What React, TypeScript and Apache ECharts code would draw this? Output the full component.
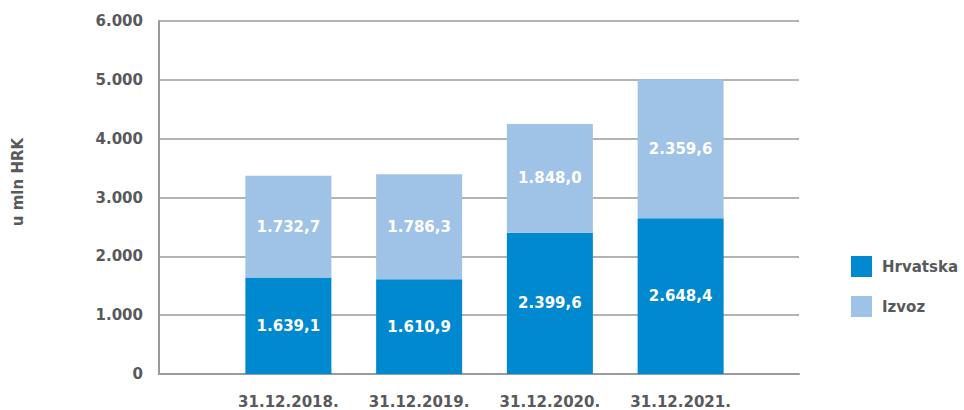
import React, { useEffect, useRef } from "react";
import * as echarts from "echarts";

const categories = ["31.12.2018.", "31.12.2019.", "31.12.2020.", "31.12.2021."];
const hrvatska = [1639.1, 1610.9, 2399.6, 2648.4];
const izvoz = [1732.7, 1786.3, 1848.0, 2359.6];
const seriesNames = ["Hrvatska", "Izvoz"];
const yAxisTitle = "u mln HRK";
const yMin = 0;
const yMax = 6000;
const yInterval = 1000;

const FONT = "DejaVu Sans";
const GRAY = "#58595b";

function fmtThousands(v: number, decimals: number): string {
  const fixed = v.toFixed(decimals);
  const [intPart, dec] = fixed.split(".");
  const withDots = intPart.replace(/\B(?=(\d{3})+(?!\d))/g, ".");
  return dec !== undefined ? withDots + "," + dec : withDots;
}

export default function App() {
  const ref = useRef<HTMLDivElement>(null);
  useEffect(() => {
    if (!ref.current) return;
    const chart = echarts.init(ref.current, null, { renderer: "svg" });
    const labelStyle = {
      show: true,
      position: "inside" as const,
      color: "#ffffff",
      fontFamily: FONT,
      fontWeight: "bold" as const,
      fontSize: 15,
      formatter: (p: any) => fmtThousands(p.value, 1),
    };
    chart.setOption({
      animation: false,
      backgroundColor: "#ffffff",
      textStyle: { fontFamily: FONT },
      grid: [
        { left: 159, right: 165, top: 21, bottom: 36 },
        { left: 223, right: 218, top: 21, bottom: 36 },
      ],
      graphic: [
        {
          type: "text",
          x: 18,
          y: 182,
          rotation: Math.PI / 2,
          style: {
            text: yAxisTitle,
            fill: GRAY,
            fontFamily: FONT,
            fontWeight: "bold",
            fontSize: 15,
            align: "center",
            verticalAlign: "middle",
          },
        },
      ],
      legend: {
        orient: "vertical",
        left: 846,
        top: 251,
        itemWidth: 21,
        itemHeight: 21,
        itemGap: 19,
        icon: "rect",
        data: seriesNames,
        textStyle: {
          color: GRAY,
          fontFamily: FONT,
          fontWeight: "bold",
          fontSize: 15,
          padding: [0, 0, 0, 5],
        },
      },
      xAxis: [
        {
          type: "category",
          gridIndex: 0,
          data: categories,
          axisLine: { show: true, lineStyle: { color: "#9a9a9a", width: 2 } },
          axisTick: { show: false },
          axisLabel: { show: false },
        },
        {
          type: "category",
          gridIndex: 1,
          data: categories,
          axisLine: { show: false },
          axisTick: { show: false },
          axisLabel: {
            interval: 0,
            color: GRAY,
            fontFamily: FONT,
            fontWeight: "bold",
            fontSize: 15,
            margin: 20,
          },
        },
      ],
      yAxis: [
        {
          type: "value",
          gridIndex: 0,
          min: yMin,
          max: yMax,
          interval: yInterval,
          axisLine: { show: true, lineStyle: { color: "#9a9a9a", width: 2 } },
          axisTick: { show: false },
          splitLine: { show: true, lineStyle: { color: "#9a9a9a", width: 1.5 } },
          axisLabel: {
            color: GRAY,
            fontFamily: FONT,
            fontWeight: "bold",
            fontSize: 15,
            margin: 16,
            formatter: (v: number) => fmtThousands(v, 0),
          },
        },
        {
          type: "value",
          gridIndex: 1,
          min: yMin,
          max: yMax,
          interval: yInterval,
          show: false,
          splitLine: { show: false },
        },
      ],
      series: [
        {
          name: seriesNames[0],
          type: "bar",
          xAxisIndex: 1,
          yAxisIndex: 1,
          stack: "total",
          barWidth: 86,
          data: hrvatska,
          itemStyle: { color: "#0089cf" },
          label: labelStyle,
        },
        {
          name: seriesNames[1],
          type: "bar",
          xAxisIndex: 1,
          yAxisIndex: 1,
          stack: "total",
          barWidth: 86,
          data: izvoz,
          itemStyle: { color: "#9fc3e7" },
          label: labelStyle,
        },
      ],
    });
    return () => chart.dispose();
  }, []);
  return (
    <div
      ref={ref}
      style={{ position: "absolute", left: 0, top: 0, width: 964, height: 410 }}
    />
  );
}
